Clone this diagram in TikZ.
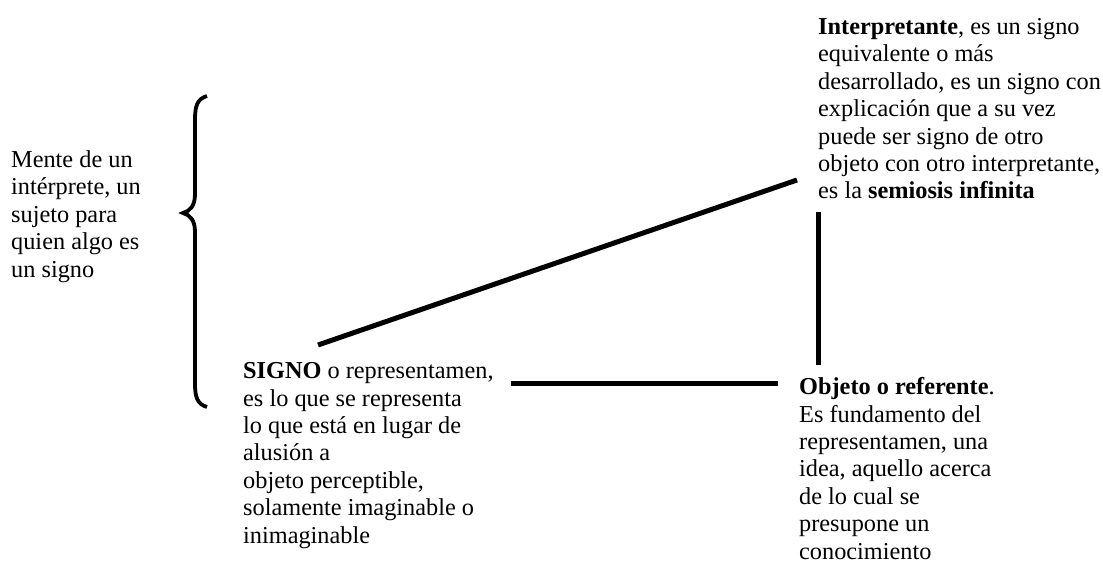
\documentclass[tikz,border=0pt]{standalone}
\usepackage{fontspec}
\setmainfont{Liberation Serif}
\usepackage{tikz}
\usetikzlibrary{positioning}

\begin{document}
\begin{tikzpicture}[x=1pt, y=-1pt,
    txt/.style={anchor=base west, align=left, inner sep=0pt,
      font=\fontsize{24.3}{27.4}\selectfont},
    bar/.style={line width=5pt}]
  \useasboundingbox (0,0) rectangle (1103,564);
  % texts (anchored at the last baseline)
  \node (mente) [txt] at (11,277) {Mente de un\\int\'erprete, un\\sujeto para\\quien algo es\\un signo};
  \node (signo) [txt] at (243,543) {\textbf{SIGNO} o representamen,\\es lo que se representa\\lo que est\'a en lugar de\\alusi\'on a\\objeto perceptible,\\solamente imaginable o\\inimaginable};
  \node (interp) [txt] at (818,199) {\textbf{Interpretante}, es un signo\\equivalente o m\'as\\desarrollado, es un signo con\\explicaci\'on que a su vez\\puede ser signo de otro\\objeto con otro interpretante,\\es la \textbf{semiosis infinita}};
  \node (objeto) [txt] at (799,559) {\textbf{Objeto o referente}.\\Es fundamento del\\representamen, una\\idea, aquello acerca\\de lo cual se\\presupone un\\conocimiento};
  % line ends
  \coordinate (signo-i) at (318,345);
  \coordinate (interp-s) at (797,180);
  \coordinate (signo-o) at (511,383);
  \coordinate (objeto-s) at (778,383);
  \coordinate (interp-o) at (818,212);
  \coordinate (objeto-i) at (818,365);
  \draw[bar] (signo-i) -- (interp-s);
  \draw[bar] (signo-o) -- (objeto-s);
  \draw[bar] (interp-o) -- (objeto-i);
  % brace
  \coordinate (top) at (207,96);
  \coordinate (tip) at (183,213);
  \coordinate (bot) at (207,407);
  \draw[line width=3.8pt] (top) .. controls (197,99) and (195,106) .. (195,120)
    -- (195,194) .. controls (195,206) and (190,211) .. (tip)
    .. controls (190,215) and (195,220) .. (195,232)
    -- (195,383) .. controls (195,397) and (197,404) .. (bot);
\end{tikzpicture}
\end{document}
